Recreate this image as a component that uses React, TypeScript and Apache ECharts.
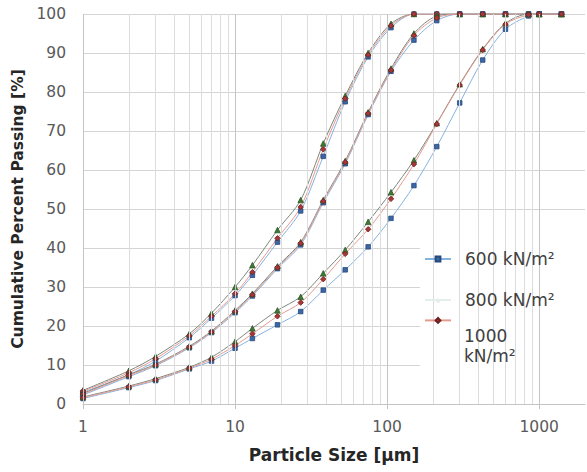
import React, { useEffect, useRef } from "react";
import * as echarts from "echarts";

// Sieve / laser sizes in µm
const sizes = [1, 2, 3, 5, 7, 10, 13, 19, 27, 38, 53, 75, 106, 150, 212, 300, 425, 600, 850, 1000, 1400];

// Fine material
const fine600 = [3, 7.5, 11, 17, 22, 27.8, 33, 41.5, 49.5, 63.5, 77.5, 89, 96.5, 100, 100, 100, 100, 100, 100, 100, 100];
const fine800 = [3.5, 8.5, 12.2, 18, 23.3, 30, 35.6, 44.6, 52.3, 66.8, 79, 90, 97.5, 100, 100, 100, 100, 100, 100, 100, 100];
const fine1000 = [3.3, 8, 11.6, 17.5, 22.5, 28.3, 33.8, 42.5, 50.5, 65.3, 78.3, 89.5, 97, 100, 100, 100, 100, 100, 100, 100, 100];

// Medium material
const mid600 = [2.3, 7, 9.8, 14.4, 18.3, 23.4, 27.7, 34.7, 40.8, 51.6, 61.6, 74.2, 85.3, 93.3, 98.3, 100, 100, 100, 100, 100, 100];
const mid800 = [2.7, 7.5, 10.2, 14.8, 18.7, 24, 28.3, 35.3, 41.5, 52.3, 62.3, 74.8, 86, 95, 99.5, 100, 100, 100, 100, 100, 100];
const mid1000 = [2.5, 7.3, 10, 14.6, 18.5, 23.7, 28, 35, 41.2, 52, 62, 74.5, 85.6, 94.5, 99, 100, 100, 100, 100, 100, 100];

// Coarse material
const coarse600 = [1.4, 4.2, 6, 9, 11, 14.3, 16.8, 20.3, 23.7, 29.2, 34.4, 40.3, 47.6, 56, 66, 77.2, 88.2, 96.1, 99.5, 100, 100];
const coarse800 = [1.8, 4.6, 6.5, 9.4, 12, 16, 19.4, 24, 27.5, 33.5, 39.5, 46.7, 54.3, 62.5, 72, 82, 91, 97.6, 100, 100, 100];
const coarse1000 = [1.6, 4.4, 6.2, 9.2, 11.5, 15, 18, 22.5, 26, 32, 38.5, 44.8, 52.6, 61.5, 71.8, 81.8, 90.8, 97.4, 99.8, 100, 100];

const pressureNames = ["600 kN/m²", "800 kN/m²", "1000 kN/m²"];
const majorTicks = [1, 10, 100, 1000];
const minorTicks = [2, 3, 4, 5, 6, 7, 8, 9, 20, 30, 40, 50, 60, 70, 80, 90, 200, 300, 400, 500, 600, 700, 800, 900];

const styles = [
  { line: "#86b2e0", marker: "#3a67a8", border: "#27487a", symbol: "rect", size: 4.5 },
  { line: "#7b887b", marker: "#3f7a33", border: "#2c5524", symbol: "triangle", size: 5.5 },
  { line: "#e59a8f", marker: "#a83636", border: "#6e2020", symbol: "diamond", size: 5.5 },
];

const FONT = "'DejaVu Sans', sans-serif";

export default function App() {
  const ref = useRef<HTMLDivElement>(null);

  useEffect(() => {
    if (!ref.current) return;
    const chart = echarts.init(ref.current, null, { renderer: "svg" });

    const groups = [
      [fine600, fine800, fine1000],
      [mid600, mid800, mid1000],
      [coarse600, coarse800, coarse1000],
    ];

    const curveSeries: any[] = [];
    groups.forEach((grp) => {
      grp.forEach((vals, i) => {
        const st = styles[i];
        curveSeries.push({
          name: pressureNames[i],
          type: "line",
          smooth: 0.3,
          data: sizes.map((s, k) => [s, vals[k]]),
          symbol: st.symbol,
          symbolSize: st.size,
          lineStyle: { color: st.line, width: 1 },
          itemStyle: { color: st.marker, borderColor: st.border, borderWidth: 0.8 },
          z: 3,
        });
      });
    });

    const vLine = (v: number, color: string) => ({
      xAxis: v,
      lineStyle: { color, width: 1, type: "solid" },
    });

    // vertical log grid (majors and minors)
    const gridSeries = {
      name: "grid",
      type: "line",
      data: [[1, 0]],
      symbol: "none",
      lineStyle: { opacity: 0 },
      silent: true,
      z: 1,
      markLine: {
        silent: true,
        symbol: "none",
        label: { show: false },
        animation: false,
        data: [
          ...minorTicks.map((v) => vLine(v, "#dcdcdc")),
          ...majorTicks.map((v) => vLine(v, "#c4c4c4")),
        ],
      },
    };

    const legendBase = {
      orient: "vertical",
      left: 424,
      padding: 0,
      itemWidth: 26,
      itemHeight: 6,
      z: 10,
      textStyle: {
        fontFamily: FONT,
        fontSize: 17,
        color: "#404040",
        lineHeight: 20,
        padding: [0, 0, 0, 9],
      },
    };

    chart.setOption({
      animation: false,
      backgroundColor: "#ffffff",
      grid: { left: 83, right: 2, top: 14, bottom: 68 },
      xAxis: {
        type: "log",
        logBase: 10,
        min: 1,
        max: 2000,
        name: "Particle Size [μm]",
        nameLocation: "middle",
        nameGap: 42,
        nameTextStyle: { fontFamily: FONT, fontSize: 17, fontWeight: "bold", color: "#262626" },
        axisLine: { show: true, lineStyle: { color: "#c4c4c4" } },
        axisTick: { show: true, length: 5, lineStyle: { color: "#c4c4c4" } },
        axisLabel: {
          fontFamily: FONT,
          fontSize: 15.5,
          color: "#595959",
          margin: 15,
          showMaxLabel: false,
          formatter: (v: number) => (majorTicks.includes(Math.round(v)) ? String(Math.round(v)) : ""),
        },
        splitLine: { show: false },
      },
      yAxis: {
        type: "value",
        min: 0,
        max: 100,
        interval: 10,
        name: "Cumulative Percent Passing [%]",
        nameLocation: "middle",
        nameGap: 51,
        nameTextStyle: { fontFamily: FONT, fontSize: 15.5, fontWeight: "bold", color: "#262626" },
        axisLine: { show: false },
        axisTick: { show: false },
        axisLabel: { fontFamily: FONT, fontSize: 15.5, color: "#595959", margin: 17 },
        splitLine: { show: true, lineStyle: { color: "#d4d4d4", width: 1 } },
      },
      legend: [
        { ...legendBase, top: 249, data: [pressureNames[0]] },
        {
          ...legendBase,
          top: 290,
          data: [pressureNames[1]],
          lineStyle: { color: "#e4eeec" },
          itemStyle: { color: "#e4eeec", borderWidth: 0 },
        },
        // 1000 kN/m²: wrapped label, with its key drawn a little above it
        {
          ...legendBase,
          top: 326,
          data: [{ name: pressureNames[2], icon: "none" }],
          lineStyle: { opacity: 0 },
          formatter: () => "1000\nkN/m²",
        },
        {
          ...legendBase,
          top: 317,
          data: [pressureNames[2]],
          formatter: () => "",
        },
      ],
      graphic: [
        {
          type: "rect",
          z: 3,
          silent: true,
          shape: { x: 420, y: 240, width: 167, height: 127 },
          style: { fill: "#ffffff" },
        },
      ],
      series: [gridSeries, ...curveSeries],
    });

    return () => chart.dispose();
  }, []);

  return (
    <div
      ref={ref}
      style={{ position: "absolute", left: 0, top: 0, width: 587, height: 472 }}
    />
  );
}
